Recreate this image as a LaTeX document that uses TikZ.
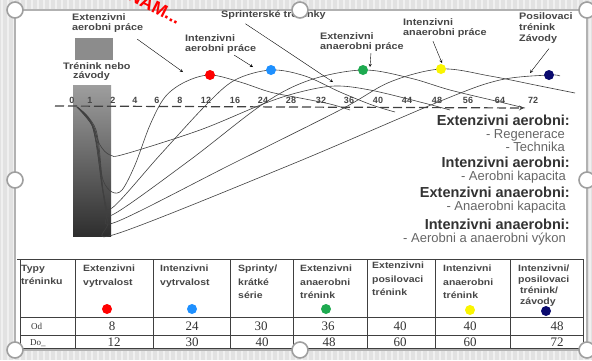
\documentclass[tikz,border=0pt]{standalone}
\usepackage{fontspec}
\setmainfont{Liberation Sans}
\newfontfamily\scanfont[FakeStretch=1.15]{Liberation Sans}
\newfontfamily\tablefont{Liberation Serif}
\usetikzlibrary{arrows}
\definecolor{dotred}{RGB}{255,0,0}
\definecolor{dotblue}{RGB}{30,144,255}
\definecolor{dotgreen}{RGB}{30,170,80}
\definecolor{dotyellow}{RGB}{250,245,0}
\definecolor{dotnavy}{RGB}{10,10,110}
\definecolor{scangray}{RGB}{70,70,70}
\definecolor{slidegray}{RGB}{226,226,226}
\tikzstyle{lbl} = [font=\scanfont\bfseries\fontsize{9.4}{9.5}\selectfont, text=scangray, align=left, anchor=north west, inner sep=0pt]
\tikzstyle{hdr} = [font=\scanfont\bfseries\fontsize{9.1}{13.5}\selectfont, text=scangray, align=left, anchor=north west, inner sep=0pt]
\tikzstyle{tick} = [font=\bfseries\fontsize{9}{9}\selectfont, text=scangray, inner sep=0pt]
\tikzstyle{head} = [font=\bfseries\fontsize{14.5}{15}\selectfont, text=black!80, anchor=east, inner sep=0pt]
\tikzstyle{item} = [font=\fontsize{13}{14}\selectfont, text=black!60, anchor=east, inner sep=0pt]
\tikzstyle{num} = [font=\tablefont\fontsize{13}{13}\selectfont, text=black!80, inner sep=0pt]
\tikzstyle{rowlbl} = [font=\tablefont\fontsize{9}{9}\selectfont, text=black!80, anchor=west, inner sep=0pt]
\tikzstyle{dot} = [circle, minimum size=10pt, inner sep=0pt]
\tikzstyle{arrow} = [thin,->,>=stealth]
\tikzstyle{curve} = [semithick, black!75, smooth, tension=0.55]
\tikzstyle{grid} = [line width=0.8pt, black!75]
\tikzstyle{stripe} = [line width=2.5pt, black!6]
\tikzstyle{handle} = [fill=white, draw=gray!75, line width=1.6pt]

\begin{document}
\begin{tikzpicture}[x=1pt,y=-1pt]
\useasboundingbox (0,0) rectangle (592,360);

% slide behind the scan
\fill[slidegray] (0,0) rectangle (592,360);
\foreach \x in {2,8,...,590}
  \draw[stripe] (\x,0) -- (\x,360);
\fill[white, draw=gray!60, line width=1.2pt] (15,10) rectangle (587,350);

% training bars
\fill[black!45] (75,38) rectangle (113,60);
\shade[top color=black!38, bottom color=black!82] (73,85) rectangle (111,236);
\node[lbl] (train) at (63,62) {Trénink nebo\\\hspace*{10pt}závody};

% time axis
\coordinate (axisL) at (55,106);
\coordinate (axisR) at (524,108);
\draw[line width=1.2pt, black!75, dash pattern=on 9pt off 4pt, ->, >=stealth] (axisL) -- (axisR);
\foreach \v/\x in {0/72,1/90,2/113,4/135,6/157,8/180,12/206,16/235,24/263,28/291,32/321,36/349,40/378,44/407,48/437,56/468,64/500,72/533}
  \node[tick] (t\v) at (\x,100) {\v};

% recovery curves
\draw[curve] plot coordinates {(77,107) (92,125) (100,145) (110,155) (125,154) (200,130) (263,104) (300,92) (335,86) (370,90) (420,102) (450,110)};
\draw[curve] plot coordinates {(77,107) (90,120) (98,150) (103,180) (112,192) (122,190) (135,165) (150,125) (165,97) (185,82) (210,75) (240,82) (270,92) (300,98) (330,104) (350,110)};
\draw[curve] plot coordinates {(77,107) (92,125) (100,170) (104,195) (112,208) (160,155) (206,105) (235,80) (271,70) (305,76) (340,92) (372,105) (395,112)};
\draw[curve] plot coordinates {(77,107) (94,130) (101,180) (106,205) (114,214) (190,160) (263,104) (310,80) (363,70) (410,78) (450,90) (500,102) (525,108)};
\draw[curve] plot coordinates {(77,107) (95,130) (102,185) (107,212) (116,222) (230,165) (340,110) (390,82) (441,69) (490,76) (540,86) (575,93)};
\draw[curve] plot coordinates {(77,107) (96,130) (103,190) (108,222) (116,234) (290,165) (443,100) (500,80) (549,75) (560,76)};

% peaks
\node[dot, fill=dotred] (pkRed) at (210,75) {};
\node[dot, fill=dotblue] (pkBlue) at (271,70) {};
\node[dot, fill=dotgreen] (pkGreen) at (363,70) {};
\node[dot, fill=dotyellow] (pkYellow) at (441,69) {};
\node[dot, fill=dotnavy] (pkNavy) at (549,75) {};

% labels above the curves
\node[lbl] (eap) at (72,13.5) {Extenzivni\\aerobni práce};
\node[lbl] (iap) at (185,34.5) {Intenzivni\\aerobni práce};
\node[lbl] (spr) at (221,10.5) {Sprinterské tréninky};
\node[lbl] (eanp) at (320,32.5) {Extenzivni\\anaerobni práce};
\node[lbl] (ianp) at (403,18.5) {Intenzivni\\anaerobni práce};
\node[lbl, font=\scanfont\bfseries\fontsize{9.4}{11}\selectfont] (pos) at (519,12.5) {Posilovaci\\trénink\\Závody};

\coordinate (eapTip) at (183,72);
\coordinate (iapTip) at (253,67);
\coordinate (sprTip) at (333,82);
\coordinate (eanpTip) at (370,67);
\coordinate (ianpTip) at (442,63);
\coordinate (posTip) at (530,73);
\draw[arrow] ([shift={(-6,7)}]eap.south east) -- (eapTip);
\draw[arrow] ([shift={(-22,2)}]iap.south east) -- (iapTip);
\draw[arrow] ([shift={(-28,4)}]spr.south) -- (sprTip);
\draw[arrow] ([shift={(9,2)}]eanp.south) -- (eanpTip);
\draw[arrow] ([shift={(-12,4)}]ianp.south) -- (ianpTip);
\draw[arrow] ([shift={(3,5)}]pos.south) -- (posTip);

% legend on the right
\node[head] (hEA) at (570,120) {Extenzivni aerobni:};
\node[item] (iReg) at (565,135) {- Regenerace};
\node[item] (iTech) at (565,147) {- Technika};
\node[head] (hIA) at (570,162) {Intenzivni aerobni:};
\node[item] (iAK) at (566,177) {- Aerobni kapacita};
\node[head] (hEAn) at (570,192) {Extenzivni anaerobni:};
\node[item] (iAnK) at (566,207) {- Anaerobni kapacita};
\node[head] (hIAn) at (570,224) {Intenzivni anaerobni:};
\node[item] (iVyk) at (566,239) {- Aerobni a anaerobni výkon};

% table
\draw[grid] (17,259) -- (583,259);
\foreach \y in {317,335,348}
  \draw[grid] (20,\y) -- (583,\y);
\foreach \x in {20,75,153,230,293,367,435,510,583}
  \draw[grid] (\x,259) -- (\x,348);

\node[hdr] (hType) at (21,265) {Typy\\tréninku};
\node[hdr] (hEV) at (83,265) {Extenzivni\\vytrvalost};
\node[hdr] (hIV) at (160,265) {Intenzivni\\vytrvalost};
\node[hdr] (hSpr) at (238,265) {Sprinty/\\krátké\\série};
\node[hdr] (hEAT) at (300,265) {Extenzivni\\anaerobni\\trénink};
\node[hdr] (hEPT) at (372,262) {Extenzivni\\posilovaci\\trénink};
\node[hdr] (hIAT) at (443,265) {Intenzivni\\anaerobni\\trénink};
\node[hdr, font=\scanfont\bfseries\fontsize{9.1}{11}\selectfont] (hIPT) at (518,265) {Intenzivni/\\posilovaci\\\hspace*{2pt}trénink/\\\hspace*{2pt}závody};

\node[dot, fill=dotred] (kRed) at (107,309) {};
\node[dot, fill=dotblue] (kBlue) at (192,309) {};
\node[dot, fill=dotgreen] (kGreen) at (326,309) {};
\node[dot, fill=dotyellow] (kYellow) at (470,310) {};
\node[dot, fill=dotnavy] (kNavy) at (546,311) {};

\node[rowlbl] (rOd) at (31,326) {Od};
\node[rowlbl] (rDo) at (30,343) {Do\_};
\foreach \v/\x [count=\i] in {8/112,24/192,30/261,36/328,40/400,40/470,48/557}
  \node[num] (od\i) at (\x,326) {\v};
\foreach \v/\x [count=\i] in {12/114,30/192,40/262,48/329,60/400,60/470,72/557}
  \node[num] (do\i) at (\x,342) {\v};

% red note over the slide
\node[font=\bfseries\fontsize{18}{18}\selectfont, text=red, rotate=-27] (note) at (150,4) {ZNAM...};

% selection handles
\foreach \p in {(15,10),(300,10),(587,10),(15,180),(587,180),(15,350),(300,350),(587,350)}
  \draw[handle] \p circle (8pt);
\end{tikzpicture}
\end{document}
